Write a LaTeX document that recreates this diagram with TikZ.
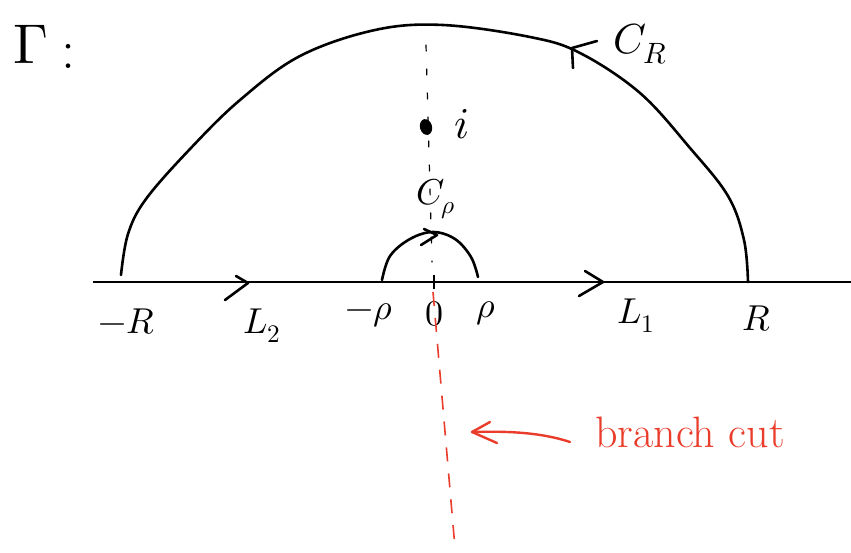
\documentclass[tikz,border=0pt]{standalone}
\usepackage{unicode-math}
\setmathfont{Latin Modern Math}
\usetikzlibrary{shapes.geometric}
\definecolor{cutred}{RGB}{234,60,42}
\tikzset{
  curve/.style={line width=2.6pt, line cap=round, line join=round},
  axisline/.style={line width=2.2pt},
  chev/.style={line width=2.6pt, line cap=round, line join=round},
  lab/.style={font=\fontsize{36}{40}\selectfont, inner sep=0pt},
  cut/.style={cutred, line width=1.6pt, dash pattern=on 14pt off 12pt},
  guide/.style={line width=1.2pt, line cap=round, dash pattern=on 6pt off 18pt},
}
\begin{document}
\begin{tikzpicture}[x=1pt,y=-1pt]
\useasboundingbox (0,0) rectangle (851,552);
% axis
\coordinate (axL) at (93,282);
\coordinate (axR) at (851,282);
\draw[axisline] (axL) -- (axR);
% big arc C_R
\coordinate (mR) at (121,275);
\coordinate (pR) at (748,282);
\draw[curve] plot[smooth, tension=0.6] coordinates {(mR) (128,234) (146,199) (190,149) (240,100) (300,56) (375,30) (443,25) (530,37) (580,53) (640,93) (690,148) (728,196) (744,240) (pR)};
% chevron on C_R
\coordinate (crTip) at (572,48);
\draw[chev] (597,41) -- (crTip) -- (573,68);
% small arc C_rho
\coordinate (mr) at (382,280);
\coordinate (pr) at (478,277);
\draw[curve] plot[smooth, tension=0.6] coordinates {(mr) (390,256) (410,239) (433,232) (455,239) (471,257) (pr)};
\coordinate (crhoTip) at (437,235);
\draw[chev] (424,229) -- (crhoTip) -- (421,245);
% chevrons on axis
\coordinate (l2Tip) at (248,283);
\draw[chev] (236,276) -- (l2Tip) -- (225,300);
\coordinate (l1Tip) at (603,282);
\draw[chev] (585,271) -- (l1Tip) -- (579,296);
% tick at 0
\coordinate (tTop) at (434,275);
\coordinate (tBot) at (434,289);
\draw[line width=2.4pt] (tTop) -- (tBot);
% dotted guide line
\coordinate (gTop) at (426,45);
\coordinate (gBot) at (432,262);
\draw[guide] (gTop) -- (gBot);
% point i
\node[draw, fill, ellipse, line width=2pt, minimum width=10pt, minimum height=14pt, inner sep=0pt, rotate=15] (ptI) at (426,127) {};
\node[lab, font=\fontsize{44}{48}\selectfont] (labI) at (462,124) {$i$};
% labels
\node[lab, font=\fontsize{56}{60}\selectfont] (gam) at (31,44) {$\Gamma$};
\node[lab, font=\fontsize{56}{60}\selectfont] (colon) at (68,56) {:};
\node[lab, font=\fontsize{42}{46}\selectfont] (labCR) at (640,44) {$C_R$};
\node[lab, font=\fontsize{36}{40}\selectfont] (labCr) at (436,199) {$C_\rho$};
\node[lab] (labmR) at (127,322) {$-R$};
\node[lab] (labL2) at (262,326) {$L_2$};
\node[lab] (labmr) at (369,315) {$-\rho$};
\node[lab] (lab0) at (434,314) {$0$};
\node[lab] (labr) at (486,313) {$\rho$};
\node[lab] (labL1) at (636,316) {$L_1$};
\node[lab] (labR) at (757,319) {$R$};
% branch cut
\coordinate (cutTop) at (433,292);
\coordinate (cutBot) at (455,548);
\draw[cut] (cutTop) -- (cutBot);
\node[lab, text=cutred, font=\fontsize{44}{48}\selectfont] (bc) at (690,432) {branch cut};
\coordinate (arS) at (570,442);
\coordinate (arT) at (472,432);
\draw[cutred, line width=2.4pt, line cap=round] (arS) .. controls (540,432) and (505,431) .. (arT);
\draw[cutred, line width=2.4pt, line cap=round, line join=round] (490,422) -- (arT) -- (497,443);
\end{tikzpicture}
\end{document}
